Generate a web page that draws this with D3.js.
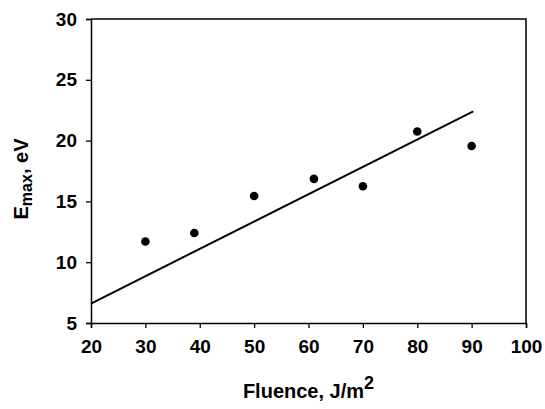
<!DOCTYPE html>
<html>
<head>
<meta charset="utf-8">
<title>Emax vs fluence</title>
<script src="https://cdnjs.cloudflare.com/ajax/libs/d3/7.6.1/d3.min.js"></script>
<style>
  body { margin: 0; background: #fff; }
  text { font-family: "Liberation Sans", Arial, sans-serif; font-weight: bold; fill: #000; }
</style>
</head>
<body>
<svg width="545" height="409"></svg>
<script>
// measured points
const fluence = [30, 39, 50, 61, 70, 80, 90];
const emax    = [11.7, 12.4, 15.45, 16.85, 16.25, 20.75, 19.55];

// model line (two end points)
const lineFluence = [20, 90.3];
const lineEmax    = [6.6, 22.4];

const xTicks = [20, 30, 40, 50, 60, 70, 80, 90, 100];
const yTicks = [5, 10, 15, 20, 25, 30];

const svg = d3.select('svg');
const plotL = 91, plotR = 526, plotT = 19, plotB = 323;

const x = d3.scaleLinear().domain([20, 100]).range([plotL, plotR]);
const y = d3.scaleLinear().domain([5, 30]).range([plotB, plotT]);

// frame (top + right)
svg.append('path')
   .attr('d', `M${plotL},${plotT}H${plotR}V${plotB}`)
   .attr('fill', 'none')
   .attr('stroke', '#000')
   .attr('stroke-width', 1.5);

const xAxis = svg.append('g')
   .attr('transform', `translate(0,${plotB})`)
   .call(d3.axisBottom(x).tickValues(xTicks).tickSize(5).tickPadding(12));

const yAxis = svg.append('g')
   .attr('transform', `translate(${plotL},0)`)
   .call(d3.axisLeft(y).tickValues(yTicks).tickSize(5).tickPadding(9));

[xAxis, yAxis].forEach(g => {
   g.select('.domain').attr('stroke-width', 1.5).attr('stroke', '#000');
   g.selectAll('.tick line').attr('stroke-width', 1.3).attr('stroke', '#000');
   g.selectAll('.tick text')
      .attr('font-size', 19)
      .attr('font-family', '"Liberation Sans", Arial, sans-serif')
      .attr('font-weight', 'bold')
      .attr('fill', '#000');
});

// model line
svg.append('path')
   .datum(d3.zip(lineFluence, lineEmax))
   .attr('d', d3.line().x(d => x(d[0])).y(d => y(d[1])))
   .attr('fill', 'none')
   .attr('stroke', '#000')
   .attr('stroke-width', 2);

// points
svg.selectAll('circle.pt')
   .data(d3.zip(fluence, emax))
   .enter()
   .append('circle')
   .attr('class', 'pt')
   .attr('cx', d => x(d[0]))
   .attr('cy', d => y(d[1]))
   .attr('r', 4.3)
   .attr('fill', '#000');

// axis titles
const xt = svg.append('text')
   .attr('x', (plotL + plotR) / 2)
   .attr('y', 398)
   .attr('text-anchor', 'middle')
   .attr('font-size', 20);
xt.append('tspan').text('Fluence, J/m');
xt.append('tspan').text('2').attr('font-size', 18).attr('dy', -9);

const yt = svg.append('text')
   .attr('transform', 'translate(28,179) rotate(-90)')
   .attr('text-anchor', 'middle')
   .attr('font-size', 20);
yt.append('tspan').text('E');
yt.append('tspan').text('max').attr('font-size', 16).attr('dy', 4);
yt.append('tspan').text(', eV').attr('dy', -4);
</script>
</body>
</html>
